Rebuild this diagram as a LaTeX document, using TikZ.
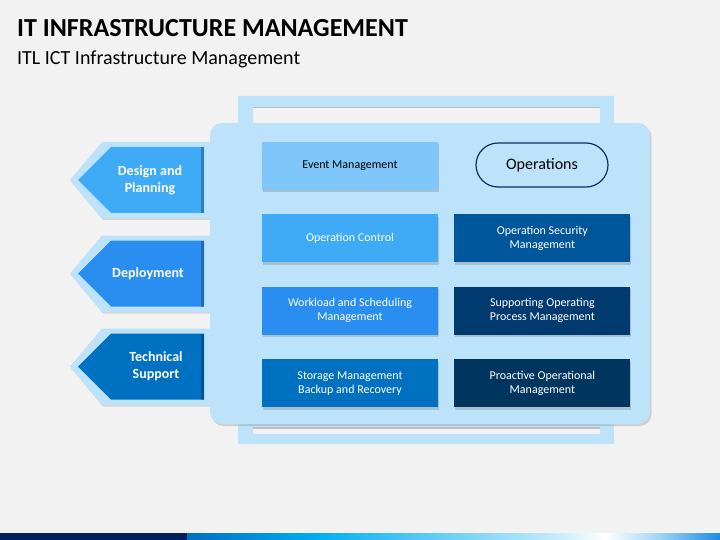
\documentclass[tikz,border=0pt]{standalone}
\usepackage{fontspec}
\setmainfont{Carlito}
\usepackage{tikz}
\usetikzlibrary{positioning, shadows}
\definecolor{PageGray}{HTML}{F2F2F2}
\definecolor{PanelBlue}{HTML}{BDE3FB}
\definecolor{SkyBox}{HTML}{7FC7FB}
\definecolor{LightBox}{HTML}{3FAAF5}
\definecolor{MidBox}{HTML}{2A8EF0}
\definecolor{DeepBox}{HTML}{0070C0}
\definecolor{NavyA}{HTML}{00569A}
\definecolor{NavyB}{HTML}{013A6F}
\definecolor{NavyC}{HTML}{003560}
\definecolor{BarNavy}{HTML}{002060}
\definecolor{BarCyan}{HTML}{00B0F0}
\definecolor{BarPale}{HTML}{C8ECFA}
\definecolor{BarSoft}{HTML}{9ED4F4}
\definecolor{BarEnd}{HTML}{1A8CE0}
\definecolor{PillLine}{HTML}{0B3060}

\begin{document}
\begin{tikzpicture}[x=1pt, y=-1pt,
    box/.style={minimum width=176pt, minimum height=48pt, inner sep=2pt, align=center,
        text=white, font=\fontsize{12}{14}\selectfont,
        drop shadow={shadow xshift=1pt, shadow yshift=-2.5pt, opacity=.35}},
    tag/.style={text=white, align=center, font=\bfseries\fontsize{14}{17}\selectfont}]
        % Page and title
        \fill [PageGray] (0,0) rectangle (720,540);
        \useasboundingbox (0,0) rectangle (720,540);
        \node [anchor=base west, inner sep=0, font=\bfseries\fontsize{26}{29}\selectfont] (title) at (17,37) {IT INFRASTRUCTURE MANAGEMENT};
        \node [anchor=base west, inner sep=0, font=\fontsize{20}{23}\selectfont] (subtitle) at (17,65) {ITL ICT Infrastructure Management};

        % Back frame with its two slots
        \fill [PanelBlue, even odd rule] (238,96) rectangle (614,444)
            (253,107) rectangle (600,124) (253,427) rectangle (600,434);
        \fill [black!25] (253,107) rectangle (600,108.5);
        \fill [black!25] (253,427) rectangle (600,428.5);

        % Outer arrow frames
        \foreach \yc in {180, 273.5, 366.5}
            \fill [PanelBlue, drop shadow={shadow xshift=1pt, shadow yshift=-1.5pt, opacity=.25}]
                (70,\yc) -- (102,\yc-38) -- (215,\yc-38) -- (215,\yc+38.5) -- (102,\yc+38.5) -- cycle;

        % Main panel
        \fill [PanelBlue, rounded corners=12pt, drop shadow={shadow xshift=1.5pt, shadow yshift=-2pt, opacity=.3}]
            (210,123) rectangle (650,424);

        % Inner arrows
        \foreach \yc/\col in {180/LightBox, 273.5/MidBox, 366.5/DeepBox} {
            \fill [\col] (78,\yc) -- (111,\yc-33) -- (204,\yc-33) -- (204,\yc+33) -- (111,\yc+33) -- cycle;
            \fill [black, opacity=.25] (201,\yc-33) rectangle (204,\yc+33);
        }
        \node [tag] (design) at (150,180) {Design and\\Planning};
        \node [tag] (deploy) at (148,273.5) {Deployment};
        \node [tag] (support) at (156,366.5) {Technical\\Support};

        % Boxes
        \node [box, fill=SkyBox, text=black] (event) at (350,166) {Event Management};
        \node [draw=PillLine, line width=1.2pt, rounded corners=22pt, minimum width=132pt,
            minimum height=44pt, font=\fontsize{16}{19}\selectfont] (ops) at (542,165) {Operations};
        \node [box, fill=LightBox, below=24pt of event] (control) {Operation Control};
        \node [box, fill=MidBox, below=24pt of control] (workload) {Workload and Scheduling\\Management};
        \node [box, fill=DeepBox, below=24pt of workload] (storage) {Storage Management\\Backup and Recovery};
        \node [box, fill=NavyA, right=16pt of control] (security) {Operation Security\\Management};
        \node [box, fill=NavyB, right=16pt of workload] (process) {Supporting Operating\\Process Management};
        \node [box, fill=NavyC, right=16pt of storage] (proactive) {Proactive Operational\\Management};

        % Bottom bar
        \fill [BarNavy] (0,533) rectangle (187,540);
        \shade [left color=DeepBox, right color=BarCyan] (187,533) rectangle (320,540);
        \shade [left color=BarCyan, right color=BarPale] (320,533) rectangle (560,540);
        \shade [left color=BarPale, right color=white] (560,533) rectangle (605,540);
        \shade [left color=white, right color=BarSoft] (605,533) rectangle (660,540);
        \shade [left color=BarSoft, right color=BarEnd] (660,533) rectangle (720,540);
    \end{tikzpicture}
\end{document}
